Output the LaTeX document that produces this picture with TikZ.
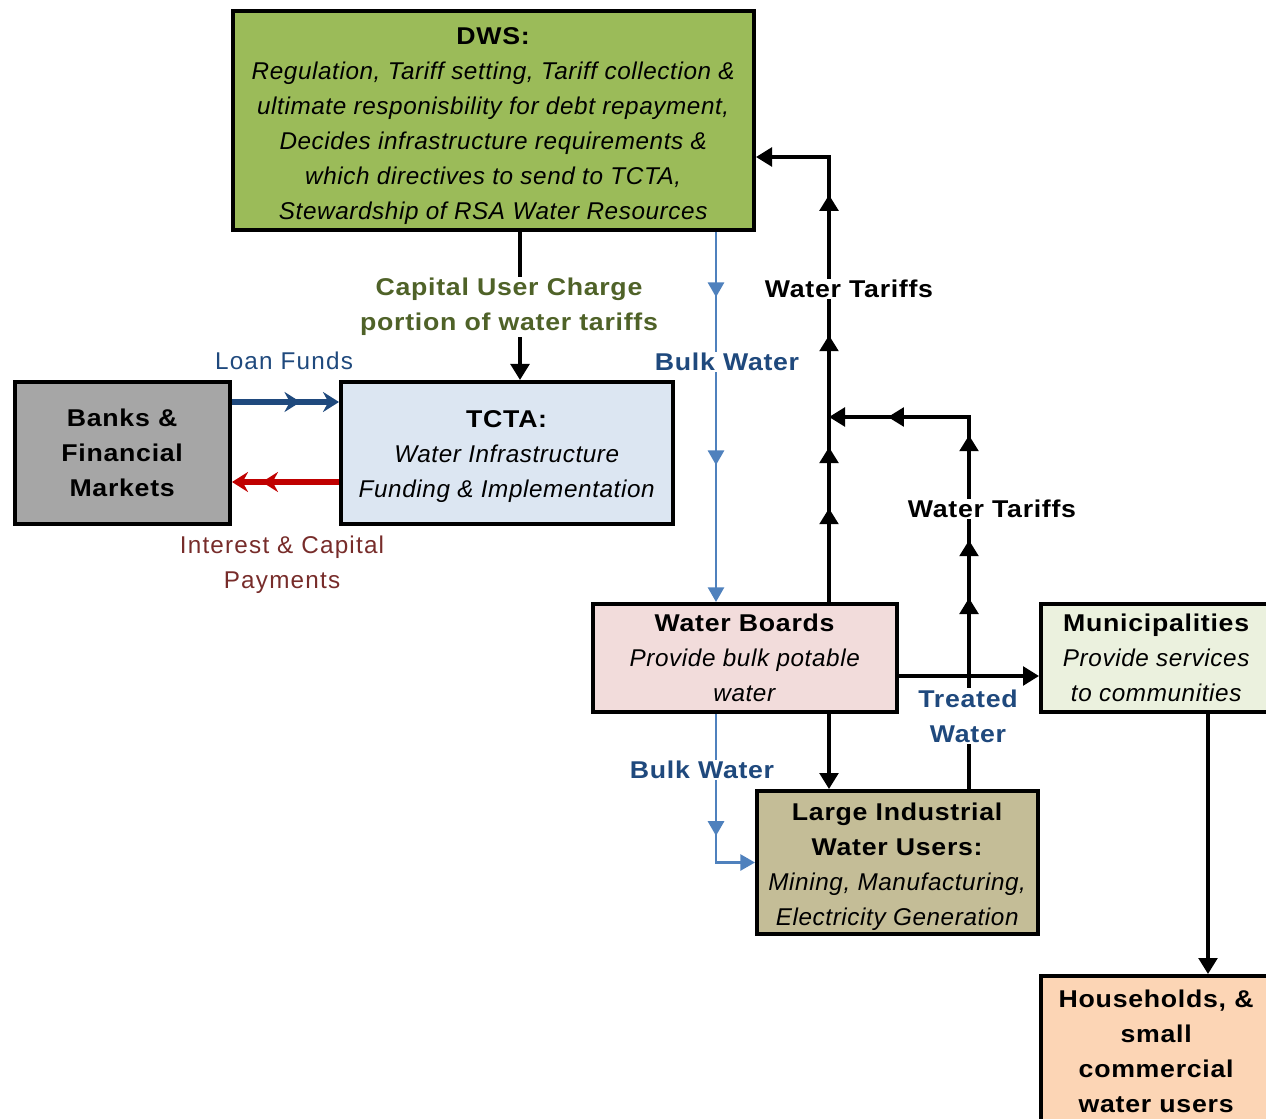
\documentclass[tikz,border=0pt]{standalone}
\usepackage{fontspec}
\setmainfont{Liberation Sans}[LetterSpace=5,ItalicFeatures={LetterSpace=2.5},BoldFeatures={FakeStretch=1.1,LetterSpace=3}]
\usepackage{tikz}
\usetikzlibrary{arrows.meta,decorations.markings}

\definecolor{dwsgreen}{HTML}{9BBB59}
\definecolor{tctablue}{HTML}{DCE6F2}
\definecolor{bankgrey}{HTML}{A6A6A6}
\definecolor{wbpink}{HTML}{F2DCDB}
\definecolor{munigreen}{HTML}{EBF1DE}
\definecolor{indtan}{HTML}{C4BD97}
\definecolor{housepeach}{HTML}{FCD5B5}
\definecolor{olivetxt}{HTML}{4F6228}
\definecolor{bluetxt}{HTML}{1F497D}
\definecolor{bulkline}{HTML}{4F81BD}
\definecolor{payred}{HTML}{C00000}
\definecolor{redtxt}{HTML}{772C2A}

\newcommand\dfont{\fontsize{18.2}{26.2}\selectfont}

\begin{document}
\begin{tikzpicture}[x=0.75pt,y=0.75pt,yscale=-1,xscale=1,
  box/.style={draw,line width=3pt,inner sep=0pt,align=center,font=\dfont},
  lbl/.style={align=center,inner sep=1pt,font=\dfont\bfseries},
  flow/.style={line width=2.6pt,>={Triangle[length=12pt,width=14pt]}},
  bulk/.style={draw=bulkline,line width=2pt,>={Triangle[length=11pt,width=12pt]}},
  money/.style={line width=4pt,>={Stealth[length=12pt,width=15pt,inset=4pt]}},
  mid/.style={postaction={decorate,decoration={markings,mark=at position #1 with {\arrow{>}}}}}]
\clip (0,0) rectangle (1266,1119);

% Boxes
\node[box,fill=dwsgreen,minimum width=390.75pt,minimum height=164.25pt] (dws) at (493.5,120.5)
  {\rule{0pt}{20.8pt}\textbf{DWS:}\\
   \textit{Regulation, Tariff setting, Tariff collection \&}\\
   \textit{ultimate responisbility for debt repayment,}\\
   \textit{Decides infrastructure requirements \&}\\
   \textit{which directives to send to TCTA,}\\
   \textit{Stewardship of RSA Water Resources}};
\node[box,fill=tctablue,minimum width=249pt,minimum height=106.5pt] (tcta) at (507,453)
  {\rule{0pt}{17.8pt}\textbf{TCTA:}\\ \textit{Water Infrastructure}\\ \textit{Funding \& Implementation}};
\node[box,fill=bankgrey,minimum width=161.25pt,minimum height=106.5pt] (banks) at (122.5,453)
  {\textbf{Banks \&}\\ \textbf{Financial}\\ \textbf{Markets}};
\node[box,fill=wbpink,minimum width=228pt,minimum height=81pt] (wb) at (745,658)
  {\textbf{Water Boards}\\ \textit{Provide bulk potable}\\ \textit{water}};
\node[box,fill=munigreen,minimum width=173.25pt,minimum height=81pt] (muni) at (1156.5,658)
  {\textbf{Municipalities}\\ \textit{Provide services}\\ \textit{to communities}};
\node[box,fill=indtan,minimum width=210.75pt,minimum height=107.25pt] (large) at (897.5,862.5)
  {\rule{0pt}{19pt}\textbf{Large Industrial}\\ \textbf{Water Users:}\\ \textit{Mining, Manufacturing,}\\ \textit{Electricity Generation}};
\node[box,fill=housepeach,minimum width=173.25pt,minimum height=112.5pt] (house) at (1156.5,1051)
  {\textbf{Households, \&}\\ \textbf{small}\\ \textbf{commercial}\\ \textbf{water users}};

% Routing points
\coordinate (capx) at (520,0);
\coordinate (bulkx) at (716,0);
\coordinate (tarx) at (829,0);
\coordinate (tarx2) at (969,0);
\coordinate (housex) at (1208,0);
\coordinate (loany) at (0,402);
\coordinate (inty) at (0,482);
\coordinate (dwsy) at (0,157);
\coordinate (jointy) at (0,417);
\coordinate (treaty) at (0,676);

% Straight Lines
\draw[flow,->] (dws.south -| capx) -- (tcta.north -| capx);
\draw[bulk,->,mid=.176,mid=.63] (dws.south -| bulkx) -- (wb.north -| bulkx);
\draw[bulk,->,mid=.65] (wb.south -| bulkx) |- (large.west);
\draw[flow,->] (wb.south -| tarx) -- (large.north -| tarx);
\draw[flow,->] (wb.east |- treaty) -- (muni.west |- treaty);
\draw[flow,->,mid=.373,mid=.486,mid=.691,mid=.885] (large.north -| tarx2) -- (tarx2 |- jointy) -- (tarx |- jointy);
\draw[flow,->,mid=.181,mid=.299,mid=.515,mid=.786] (wb.north -| tarx) -- (tarx |- dwsy) -- (dws.east |- dwsy);
\draw[flow,->] (muni.south -| housex) -- (house.north -| housex);
\draw[money,draw=bluetxt,->,mid=.64] (banks.east |- loany) -- (tcta.west |- loany);
\draw[money,draw=payred,->,mid=.72] (tcta.west |- inty) -- (banks.east |- inty);

% Text Node
\node[lbl,fill=white,text=olivetxt] (caplbl) at (509,307) {Capital User Charge\\portion of water tariffs};
\node[lbl,fill=white] (tarlbl) at (849,289) {Water Tariffs};
\node[lbl,fill=white,text=bluetxt] (bulklbl) at (727,362) {Bulk Water};
\node[lbl,fill=white] (tarlbl2) at (992,509) {Water Tariffs};
\node[lbl,fill=white,text=bluetxt] (treatlbl) at (968,716) {Treated\\Water};
\node[lbl,fill=white,text=bluetxt] (bulklbl2) at (702,770) {Bulk Water};
\node[lbl,font=\dfont,text=bluetxt] (loanlbl) at (284,361) {Loan Funds};
\node[lbl,font=\dfont,text=redtxt] (paylbl) at (282,565) {Interest \& Capital\\Payments};
\end{tikzpicture}
\end{document}
